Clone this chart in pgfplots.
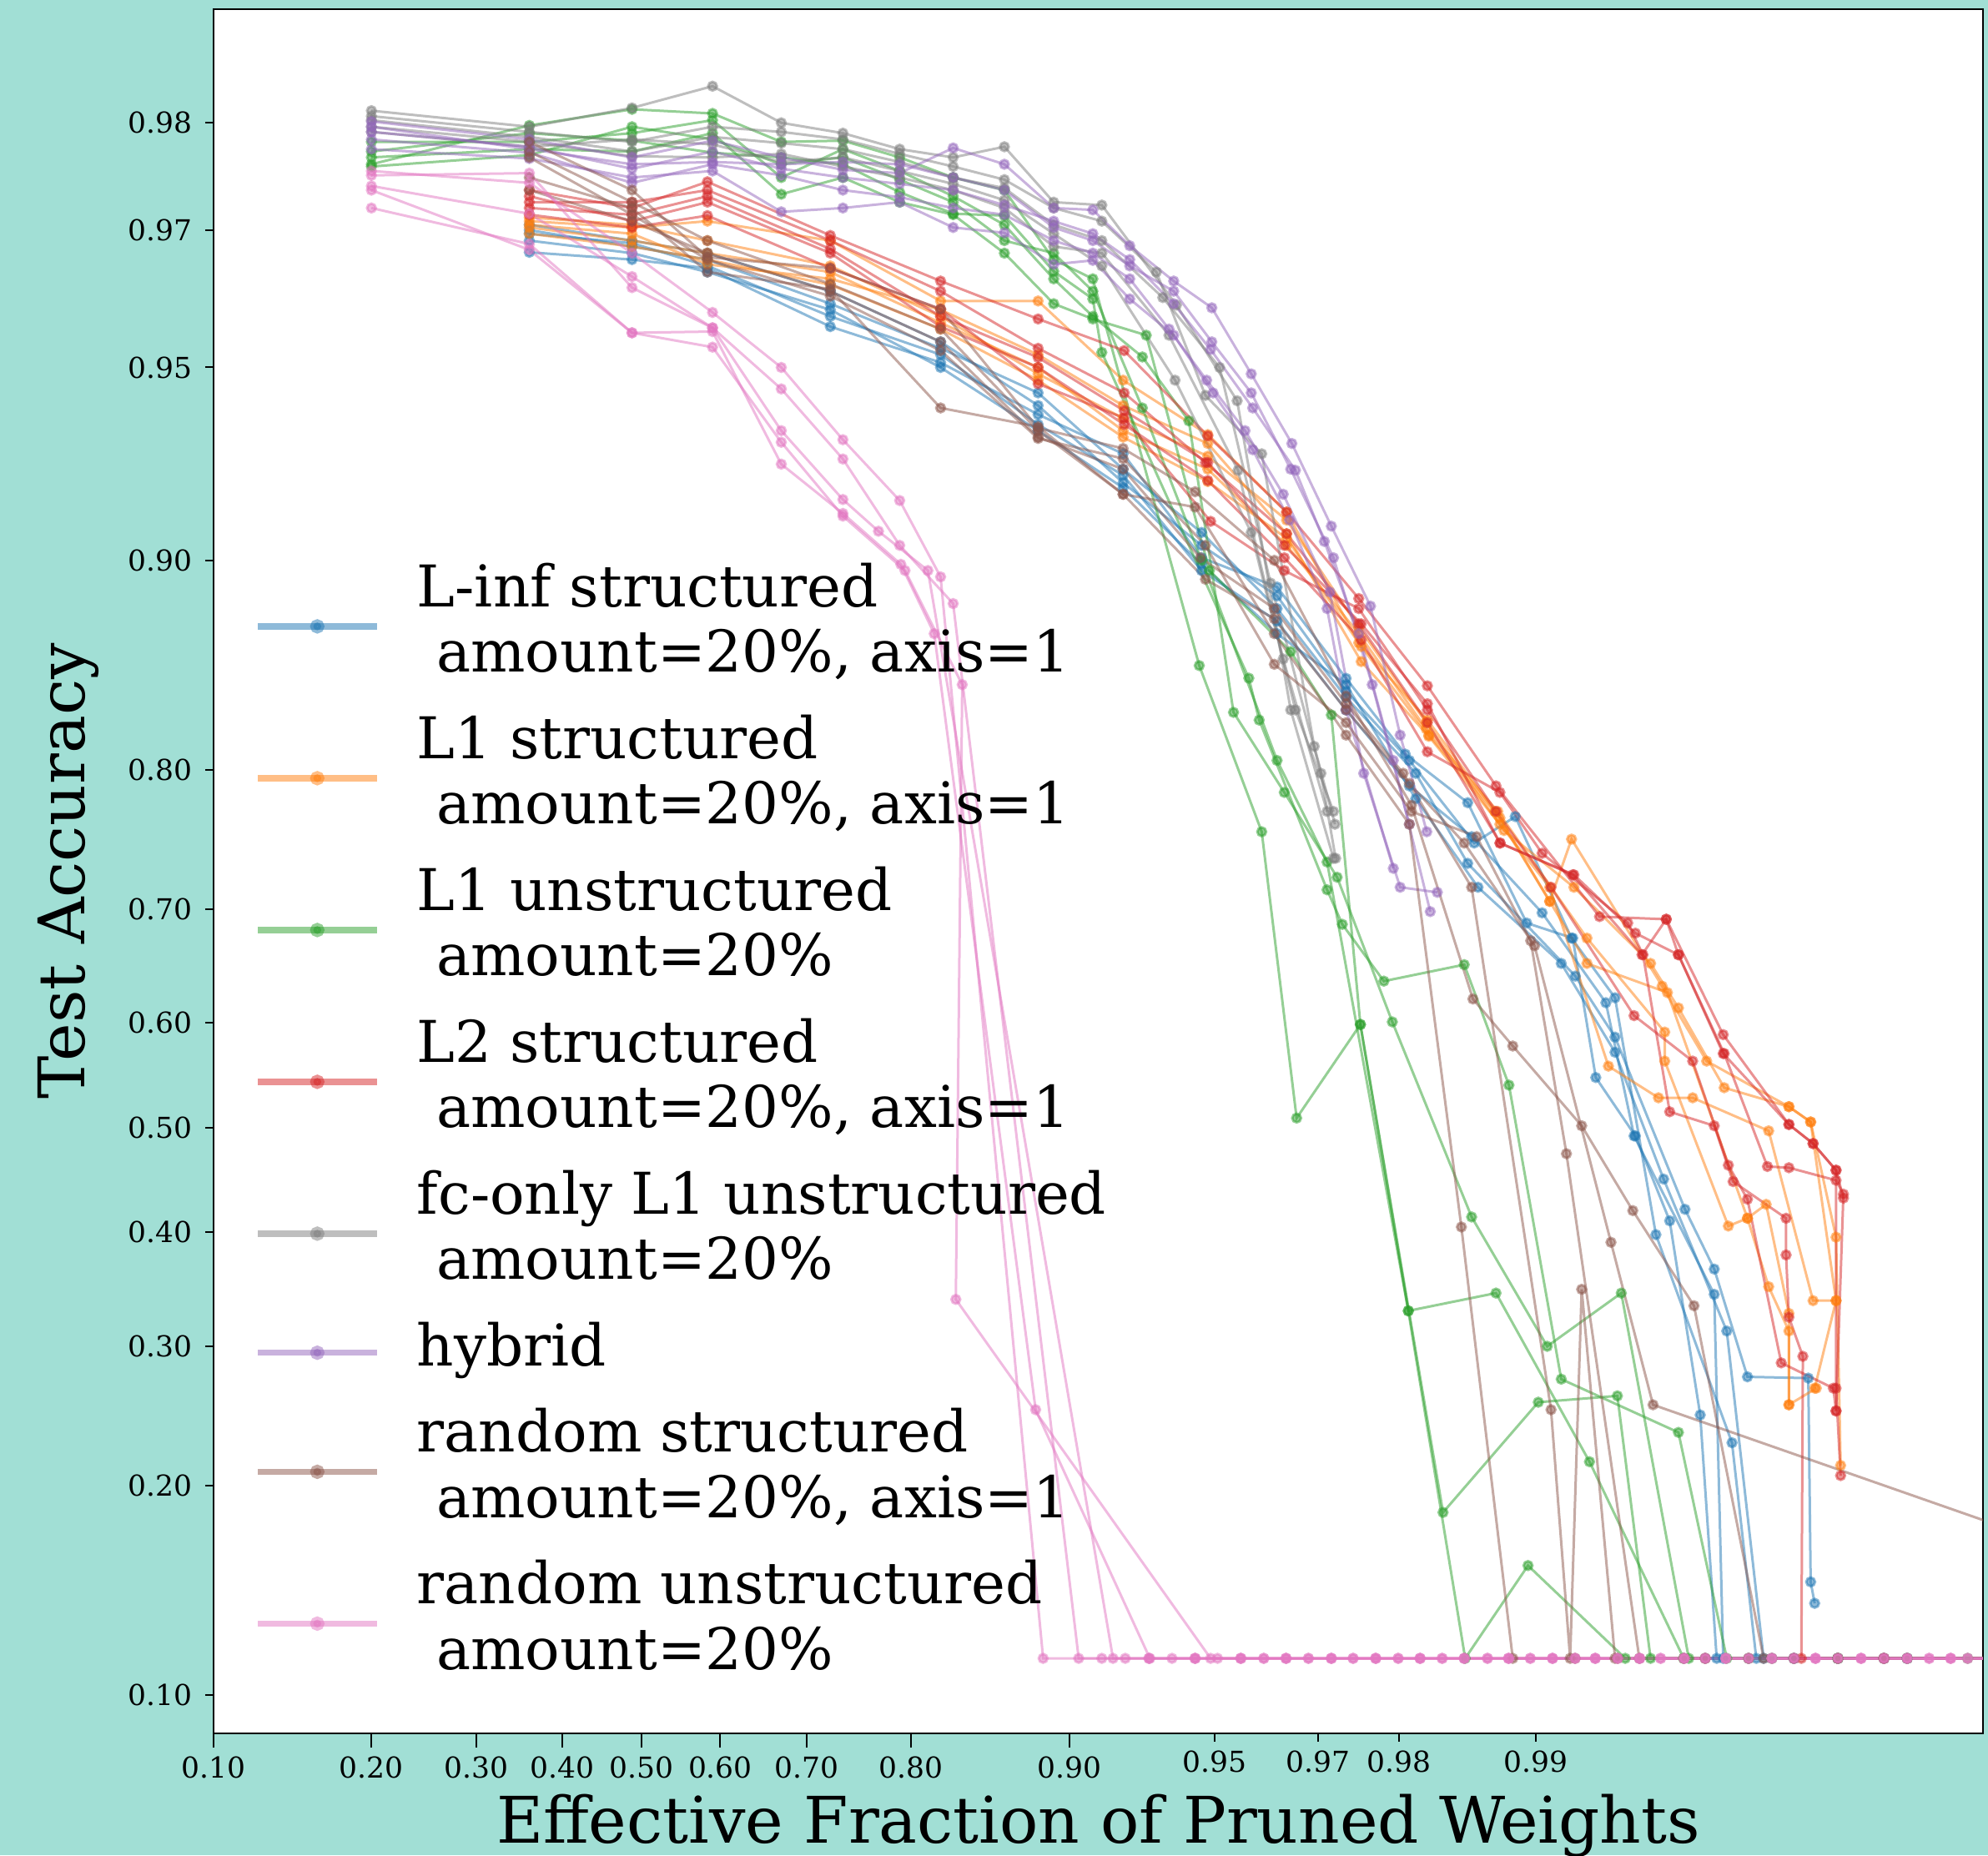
\documentclass[border=0pt]{standalone}
\usepackage{fontspec}
\setmainfont{DejaVu Serif}
\usepackage{pgfplots}
\pgfplotsset{compat=1.18}
\definecolor{bgteal}{RGB}{161,223,213}
\definecolor{tblue}{HTML}{1F77B4}
\definecolor{torange}{HTML}{FF7F0E}
\definecolor{tgreen}{HTML}{2CA02C}
\definecolor{tred}{HTML}{D62728}
\definecolor{tpurple}{HTML}{9467BD}
\definecolor{tbrown}{HTML}{8C564B}
\definecolor{tpink}{HTML}{E377C2}
\definecolor{tgray}{HTML}{7F7F7F}
\newcommand{\LE}[2]{$\vcenter{\fontsize{13.8}{15.7}\selectfont\lineskiplimit=-20pt\hbox{\strut #1}\hbox{\hspace*{4.7pt}\strut #2}}$}
\newcommand{\LS}[1]{$\vcenter{\fontsize{13.8}{15.7}\selectfont\hbox{\strut #1}}$}
\pgfplotsset{run/.style={line width=0.6pt, opacity=0.5, mark=*, mark size=1.05pt, forget plot}}
\begin{document}
\begin{tikzpicture}
\fill[bgteal] (-51.2pt,-29.2pt) rectangle (425.4pt,415.6pt);
\begin{axis}[
  at={(0pt,0pt)}, anchor=south west,
  scale only axis, width=424.2pt, height=413.4pt,
  xmin=-2.197, xmax=6.89, ymin=-2.346, ymax=4.332,
  axis background/.style={fill=white},
  axis line style={line width=0.5pt, black},
  x filter/.expression={ln(x/(1-x))},
  y filter/.expression={ln(y/(1-y))},
  tick align=outside,
  major tick length=3.4pt,
  tick style={black, line width=0.4pt},
  xtick pos=bottom, ytick pos=left,
  xtick={-2.19722,-1.38629,-0.84730,-0.40547,0,0.40547,0.84730,1.38629,2.19722},
  xticklabels={0.10,0.20,0.30,0.40,0.50,0.60,0.70,0.80,0.90},
  extra x ticks={2.94444,3.47610,3.89182,4.59512},
  extra x tick labels={0.95,0.97,0.98,0.99},
  extra x tick style={major tick length=1.9pt},
  ytick=\empty,
  extra y ticks={-2.19722,-1.38629,-0.84730,-0.40547,0,0.40547,0.84730,1.38629,2.19722,2.94444,3.47610,3.89182},
  extra y tick labels={0.10,0.20,0.30,0.40,0.50,0.60,0.70,0.80,0.90,0.95,0.97,0.98},
  extra y tick style={major tick length=2pt},
  tick label style={font=\fontsize{6.9}{8}\selectfont, inner sep=0pt},
  xticklabel style={anchor=north, yshift=-2pt},
  yticklabel style={anchor=east, xshift=-3pt},
  xlabel={Effective Fraction of Pruned Weights},
  ylabel={Test Accuracy},
  every axis x label/.style={at={(axis description cs:0.5,-0.0535)}, anchor=center, font=\fontsize{15.4}{18}\selectfont},
  every axis y label/.style={at={(axis description cs:-0.082,0.5)}, anchor=center, rotate=90, font=\fontsize{15.4}{18}\selectfont},
  legend image code/.code={\draw[mark repeat=2,mark phase=2,#1] plot coordinates {(0pt,0pt) (14.25pt,0pt) (28.5pt,0pt)};},
  legend style={at={(0.0228,0.6805)}, anchor=north west, draw=none, fill=none, inner sep=0pt, row sep=5pt, column sep=8.9pt, nodes={inner sep=0pt, text depth=}, cells={anchor=west}},
]
% ---------------- L-inf structured (blue)
\addplot[run, tblue] coordinates {(0.36,0.9674) (0.488,0.9665) (0.584,0.9654) (0.7252,0.957) (0.823,0.9509) (0.8847,0.9406) (0.9223,0.9315) (0.9467,0.9009) (0.9632,0.8903) (0.9739,0.8507) (0.9806,0.8095) (0.98585,0.7788) (0.98951,0.6884) (0.9917,0.6757) (0.99262,0.5484) (0.99397,0.492) (0.99494,0.4108) (0.99567,0.2474) (0.99602,0.1135) (0.99732,0.1135) (0.99831,0.1135) (0.9993,0.1135)};
\addplot[run, tblue] coordinates {(0.36,0.9706) (0.488,0.9688) (0.584,0.9673) (0.7252,0.9623) (0.823,0.9545) (0.8847,0.9425) (0.9223,0.924) (0.9467,0.9051) (0.9632,0.8869) (0.9739,0.8443) (0.981,0.8057) (0.98631,0.7507) (0.98888,0.7694) (0.99165,0.6757) (0.99331,0.6232) (0.99457,0.3979) (0.99632,0.2279) (0.99675,0.1135) (0.99786,0.1135) (0.9985,0.1135) (0.9993,0.1135)};
\addplot[run, tblue] coordinates {(0.36,0.97) (0.488,0.9681) (0.584,0.9665) (0.7252,0.9605) (0.823,0.9534) (0.8847,0.9451) (0.9223,0.9276) (0.9467,0.9093) (0.9632,0.8819) (0.9739,0.8411) (0.9816,0.7978) (0.98585,0.7357) (0.99181,0.6427) (0.99331,0.5868) (0.99532,0.4216) (0.99597,0.3664) (0.9966,0.2759) (0.99751,0.2749) (0.99754,0.1469) (0.99759,0.1368)};
\addplot[run, tblue] coordinates {(0.36,0.9696) (0.488,0.9685) (0.584,0.9657) (0.7252,0.9586) (0.823,0.9523) (0.8847,0.9384) (0.9223,0.926) (0.9467,0.8964) (0.9632,0.8767) (0.9739,0.8345) (0.981,0.7898) (0.98613,0.7553) (0.9903,0.6968) (0.99299,0.6187) (0.99393,0.492) (0.99597,0.344) (0.99615,0.1135) (0.99732,0.1135) (0.99831,0.1135) (0.9993,0.1135)};
\addplot[run, tblue] coordinates {(0.36,0.9688) (0.488,0.9673) (0.584,0.9649) (0.7252,0.9596) (0.823,0.95) (0.8847,0.937) (0.9223,0.9226) (0.9467,0.8986) (0.9632,0.8714) (0.9739,0.8476) (0.9816,0.7814) (0.98657,0.7173) (0.9912,0.6539) (0.99331,0.5725) (0.99478,0.4504) (0.99622,0.3127) (0.99687,0.1135) (0.99786,0.1135) (0.9985,0.1135) (0.9993,0.1135)};
% ---------------- L1 structured (orange)
\addplot[run, torange] coordinates {(0.36,0.971) (0.488,0.9703) (0.584,0.971) (0.7252,0.9688) (0.823,0.9609) (0.8847,0.9609) (0.9223,0.9476) (0.9483,0.9361) (0.9649,0.9156) (0.9755,0.8674) (0.98266,0.829) (0.98767,0.7729) (0.99067,0.7061) (0.99165,0.7535) (0.99474,0.6337) (0.99581,0.5641) (0.99725,0.5203) (0.99754,0.5055) (0.99784,0.3955) (0.99789,0.2128)};
\addplot[run, torange] coordinates {(0.36,0.9706) (0.488,0.9696) (0.584,0.9659) (0.7252,0.964) (0.823,0.9596) (0.8847,0.9523) (0.9223,0.9425) (0.9483,0.934) (0.9649,0.9089) (0.9758,0.8588) (0.98278,0.8199) (0.98798,0.7641) (0.99067,0.7173) (0.99308,0.5593) (0.99464,0.5289) (0.9955,0.5289) (0.99695,0.4969) (0.99757,0.3385) (0.99784,0.3385) (0.99759,0.2672)};
\addplot[run, torange] coordinates {(0.36,0.9703) (0.488,0.9688) (0.584,0.9673) (0.7252,0.9649) (0.823,0.9576) (0.8847,0.95) (0.9223,0.937) (0.9483,0.9276) (0.9649,0.9051) (0.9755,0.8714) (0.98255,0.8241) (0.98785,0.7729) (0.99228,0.6757) (0.99481,0.5915) (0.99481,0.5641) (0.99625,0.4059) (0.9966,0.4132) (0.99691,0.4263) (0.99725,0.3275) (0.99725,0.2548) (0.99761,0.2672)};
\addplot[run, torange] coordinates {(0.36,0.9714) (0.488,0.9706) (0.584,0.9688) (0.7252,0.9657) (0.823,0.9586) (0.8847,0.9488) (0.9223,0.9398) (0.9483,0.9309) (0.9649,0.9132) (0.9755,0.8741) (0.98255,0.8276) (0.98823,0.7597) (0.99175,0.7173) (0.99442,0.6539) (0.99516,0.6139) (0.99617,0.5386) (0.99725,0.5203) (0.99754,0.5055) (0.99784,0.3385)};
\addplot[run, torange] coordinates {(0.36,0.9696) (0.488,0.9681) (0.584,0.9665) (0.7252,0.9632) (0.823,0.9566) (0.8847,0.9476) (0.9223,0.9355) (0.9483,0.9243) (0.9649,0.9074) (0.9758,0.8657) (0.98278,0.8206) (0.98798,0.7685) (0.99067,0.7061) (0.99228,0.6539) (0.99488,0.6279) (0.9966,0.4132) (0.99695,0.3507) (0.99725,0.3127) (0.99725,0.2548)};
% ---------------- L1 unstructured (green)
\addplot[run, tgreen] coordinates {(0.2,0.9766) (0.36,0.9798) (0.488,0.981) (0.5904,0.9807) (0.6723,0.9785) (0.7379,0.9786) (0.7903,0.9772) (0.8322,0.9754) (0.8658,0.9742) (0.8926,0.9665) (0.9104,0.964) (0.9461,0.8569) (0.9603,0.7588) (0.9666,0.5093) (0.9757,0.5986) (0.9809,0.3297) (0.98774,0.3451) (0.99238,0.2152) (0.99529,0.1135) (0.997,0.1135) (0.99786,0.1135) (0.9985,0.1135) (0.9993,0.1135)};
\addplot[run, tgreen] coordinates {(0.2,0.9777) (0.36,0.9792) (0.488,0.9786) (0.5904,0.9776) (0.6723,0.9772) (0.7379,0.9766) (0.7903,0.974) (0.8322,0.9718) (0.8658,0.9716) (0.8926,0.965) (0.9104,0.9612) (0.9141,0.9527) (0.9577,0.8508) (0.9598,0.829) (0.9713,0.7153) (0.9734,0.6873) (0.9784,0.6382) (0.9856,0.6528) (0.98852,0.5411) (0.9912,0.2741) (0.99516,0.235) (0.99622,0.1135) (0.997,0.1135) (0.99786,0.1135) (0.9985,0.1135) (0.9993,0.1135)};
\addplot[run, tgreen] coordinates {(0.2,0.9785) (0.36,0.9785) (0.488,0.9792) (0.5904,0.9802) (0.6723,0.9754) (0.7379,0.9779) (0.7903,0.976) (0.8322,0.9736) (0.8658,0.9706) (0.8926,0.964) (0.9104,0.9586) (0.9291,0.9519) (0.9433,0.9392) (0.9544,0.8332) (0.9645,0.7856) (0.9727,0.7251) (0.9793,0.601) (0.98613,0.4144) (0.99055,0.3001) (0.99352,0.3451) (0.99541,0.1135) (0.99662,0.1135) (0.99786,0.1135) (0.9985,0.1135) (0.9993,0.1135)};
\addplot[run, tgreen] coordinates {(0.2,0.9772) (0.36,0.9779) (0.488,0.9777) (0.5904,0.9792) (0.6723,0.9738) (0.7379,0.9754) (0.7903,0.973) (0.8322,0.9717) (0.8658,0.9673) (0.8926,0.9605) (0.9104,0.9582) (0.9304,0.9556) (0.9487,0.8964) (0.9656,0.8634) (0.9719,0.8318) (0.9757,0.5986) (0.98397,0.1839) (0.99011,0.2567) (0.99339,0.2614) (0.99442,0.1135) (0.99578,0.1135) (0.99732,0.1135) (0.99831,0.1135) (0.9993,0.1135)};
\addplot[run, tgreen] coordinates {(0.2,0.9764) (0.36,0.9774) (0.488,0.9797) (0.5904,0.9787) (0.6723,0.9766) (0.7379,0.9772) (0.7903,0.9752) (0.8322,0.973) (0.8658,0.9688) (0.8926,0.9673) (0.9104,0.9623) (0.9291,0.942) (0.9467,0.9) (0.9632,0.8057) (0.9713,0.7367) (0.9809,0.3297) (0.98567,0.1135) (0.98958,0.155) (0.99365,0.1135) (0.99529,0.1135) (0.99662,0.1135) (0.99786,0.1135) (0.9989,0.1135) (0.9993,0.1135)};
% ---------------- L2 structured (red)
\addplot[run, tred] coordinates {(0.36,0.9742) (0.488,0.9724) (0.584,0.975) (0.7252,0.9694) (0.823,0.9637) (0.8847,0.9582) (0.9227,0.953) (0.9483,0.9358) (0.9649,0.9156) (0.9755,0.8859) (0.98265,0.847) (0.98774,0.7898) (0.99276,0.6937) (0.99485,0.6915) (0.99615,0.5891) (0.99725,0.5031) (0.99757,0.4846) (0.99784,0.4589) (0.99784,0.2672) (0.99789,0.2063)};
\addplot[run, tred] coordinates {(0.36,0.9724) (0.488,0.9717) (0.584,0.9736) (0.7252,0.9678) (0.823,0.9586) (0.8847,0.9518) (0.9227,0.9414) (0.9483,0.9293) (0.9645,0.9051) (0.9758,0.8756) (0.98265,0.8378) (0.98798,0.7507) (0.99175,0.727) (0.99397,0.6799) (0.99516,0.6615) (0.99617,0.5713) (0.99693,0.4625) (0.99725,0.4613) (0.99784,0.4492) (0.99792,0.436) (0.99784,0.2503)};
\addplot[run, tred] coordinates {(0.36,0.9736) (0.488,0.971) (0.584,0.973) (0.7252,0.9673) (0.823,0.957) (0.8847,0.95) (0.9227,0.9384) (0.9483,0.9246) (0.9645,0.9009) (0.9758,0.8686) (0.98265,0.8109) (0.98798,0.7856) (0.9903,0.7432) (0.99373,0.6884) (0.9942,0.6615) (0.99494,0.5154) (0.99597,0.5018) (0.99634,0.448) (0.99721,0.4132) (0.99721,0.3792) (0.99725,0.3243) (0.99744,0.292) (0.99742,0.1135) (0.99831,0.1135) (0.9993,0.1135)};
\addplot[run, tred] coordinates {(0.36,0.9717) (0.488,0.9703) (0.584,0.9716) (0.7252,0.9654) (0.823,0.9597) (0.8847,0.9469) (0.9227,0.9398) (0.949,0.9128) (0.9645,0.8964) (0.9755,0.8819) (0.98265,0.8345) (0.98774,0.7729) (0.99073,0.7173) (0.99393,0.6068) (0.9955,0.5641) (0.99625,0.4637) (0.9966,0.4312) (0.99714,0.2868) (0.99781,0.2672) (0.99784,0.2503)};
\addplot[run, tred] coordinates {(0.36,0.973) (0.488,0.973) (0.584,0.9742) (0.7252,0.9688) (0.823,0.9623) (0.8847,0.9534) (0.9227,0.9451) (0.9477,0.9293) (0.9649,0.9089) (0.9755,0.8756) (0.98265,0.8276) (0.988,0.7507) (0.9917,0.727) (0.99417,0.6615) (0.99485,0.6915) (0.99516,0.6615) (0.99615,0.5713) (0.99725,0.5031) (0.99757,0.4846) (0.99784,0.4589) (0.99792,0.4323)};
% ---------------- fc-only L1 unstructured (gray)
\addplot[run, tgray] coordinates {(0.2,0.9809) (0.36,0.9797) (0.488,0.9811) (0.5904,0.9826) (0.6723,0.98) (0.7379,0.9792) (0.7903,0.9779) (0.8322,0.9772) (0.8658,0.9781) (0.8926,0.973) (0.9141,0.9727) (0.9398,0.9603) (0.9552,0.9435) (0.9656,0.8345) (0.9722,0.7395)};
\addplot[run, tgray] coordinates {(0.2,0.9805) (0.36,0.9793) (0.488,0.9785) (0.5904,0.9797) (0.6723,0.9793) (0.7379,0.9787) (0.7903,0.9775) (0.8322,0.9764) (0.8658,0.9752) (0.8926,0.9724) (0.9141,0.971) (0.9337,0.9649) (0.9477,0.9446) (0.9603,0.9315) (0.9694,0.8141) (0.9724,0.7641)};
\addplot[run, tgray] coordinates {(0.2,0.9802) (0.36,0.9789) (0.488,0.9777) (0.5904,0.9789) (0.6723,0.9784) (0.7379,0.9779) (0.7903,0.9768) (0.8322,0.9754) (0.8658,0.9744) (0.8926,0.9706) (0.9141,0.9688) (0.9357,0.9614) (0.9512,0.95) (0.962,0.8918) (0.9704,0.7978) (0.9725,0.7395)};
\addplot[run, tgray] coordinates {(0.2,0.9797) (0.36,0.9785) (0.488,0.9773) (0.5904,0.9772) (0.6723,0.9775) (0.7379,0.9764) (0.7903,0.9754) (0.8322,0.9742) (0.8658,0.9724) (0.8926,0.9681) (0.9141,0.9673) (0.9376,0.9556) (0.9554,0.9273) (0.9643,0.86) (0.9713,0.7729)};
\addplot[run, tgray] coordinates {(0.2,0.9793) (0.36,0.9781) (0.488,0.9787) (0.5904,0.9783) (0.6723,0.9768) (0.7379,0.9772) (0.7903,0.976) (0.8322,0.9748) (0.8658,0.9732) (0.8926,0.9696) (0.9141,0.9657) (0.9394,0.9476) (0.9582,0.9093) (0.9664,0.8345) (0.9722,0.7729)};
% ---------------- hybrid (purple)
\addplot[run, tpurple] coordinates {(0.2,0.9801) (0.36,0.9787) (0.488,0.9772) (0.5904,0.9786) (0.6723,0.9772) (0.7379,0.9761) (0.7903,0.9758) (0.8322,0.978) (0.8658,0.9766) (0.8926,0.9724) (0.9104,0.9722) (0.9247,0.9682) (0.939,0.9637) (0.9493,0.9599) (0.9582,0.9488) (0.9658,0.934) (0.9719,0.9113) (0.9769,0.8829) (0.9801,0.8206) (0.9826,0.7588)};
\addplot[run, tpurple] coordinates {(0.2,0.9793) (0.36,0.9781) (0.488,0.9762) (0.5904,0.9777) (0.6723,0.9762) (0.7379,0.9754) (0.7903,0.9748) (0.8322,0.9742) (0.8658,0.9727) (0.8926,0.971) (0.9104,0.9696) (0.9247,0.9665) (0.939,0.9605) (0.949,0.9532) (0.9585,0.942) (0.9664,0.9273) (0.9709,0.9064) (0.9755,0.8714) (0.9794,0.8057) (0.9829,0.6978)};
\addplot[run, tpurple] coordinates {(0.2,0.9787) (0.36,0.9776) (0.488,0.9749) (0.5904,0.9766) (0.6723,0.9756) (0.7379,0.9742) (0.7903,0.9735) (0.8322,0.9724) (0.8658,0.9717) (0.8926,0.9688) (0.9104,0.9673) (0.9247,0.964) (0.9376,0.9566) (0.948,0.9476) (0.9569,0.937) (0.9643,0.9208) (0.9717,0.8884) (0.9761,0.7978) (0.9801,0.7173) (0.9835,0.7133)};
\addplot[run, tpurple] coordinates {(0.2,0.9779) (0.36,0.9771) (0.488,0.9754) (0.5904,0.976) (0.6723,0.972) (0.7379,0.9724) (0.7903,0.973) (0.8322,0.9703) (0.8658,0.9697) (0.8926,0.9659) (0.9104,0.9664) (0.9247,0.9612) (0.939,0.9556) (0.9496,0.9451) (0.9585,0.9325) (0.9654,0.9132) (0.9713,0.8819) (0.9739,0.8345) (0.9794,0.7319)};
\addplot[run, tpurple] coordinates {(0.2,0.9797) (0.36,0.9779) (0.488,0.9766) (0.5904,0.9768) (0.6723,0.9766) (0.7379,0.9768) (0.7903,0.9766) (0.8322,0.9754) (0.8658,0.9742) (0.8926,0.9703) (0.9104,0.9688) (0.9247,0.9657) (0.939,0.9623) (0.9493,0.9545) (0.9582,0.9451) (0.9656,0.9276) (0.9722,0.9009) (0.9771,0.8476) (0.981,0.7641)};
% ---------------- random structured (brown)
\addplot[run, tbrown] coordinates {(0.36,0.9785) (0.488,0.9742) (0.584,0.9668) (0.7252,0.9654) (0.823,0.9597) (0.8847,0.9376) (0.9223,0.9328) (0.945,0.9215) (0.9627,0.9) (0.9739,0.8418) (0.9812,0.7771) (0.98622,0.6221) (0.98874,0.5784) (0.99207,0.5018) (0.99389,0.4204) (0.99553,0.3341) (0.99687,0.1135) (0.99786,0.1135) (0.9985,0.1135) (0.9993,0.1135)};
\addplot[run, tbrown] coordinates {(0.36,0.9777) (0.488,0.973) (0.584,0.9688) (0.7252,0.9633) (0.823,0.9566) (0.8847,0.937) (0.9223,0.9208) (0.9477,0.8932) (0.9627,0.8777) (0.9739,0.8345) (0.981,0.7914) (0.9856,0.7507) (0.98992,0.6692) (0.99317,0.3908) (0.99449,0.2548) (0.99959,0.1469)};
\addplot[run, tbrown] coordinates {(0.36,0.9772) (0.488,0.9717) (0.584,0.9665) (0.7252,0.9616) (0.823,0.953) (0.8847,0.9352) (0.9223,0.9303) (0.9477,0.9051) (0.9627,0.8575) (0.9739,0.8276) (0.9812,0.7729) (0.98648,0.7553) (0.98972,0.6735) (0.99143,0.4748) (0.99409,0.1135) (0.99578,0.1135) (0.99732,0.1135) (0.99831,0.1135) (0.9993,0.1135)};
\addplot[run, tbrown] coordinates {(0.36,0.9754) (0.488,0.9724) (0.584,0.9649) (0.7252,0.9626) (0.823,0.942) (0.8847,0.9379) (0.9223,0.9208) (0.945,0.9171) (0.9627,0.8714) (0.9739,0.8206) (0.981,0.7641) (0.98539,0.405) (0.98874,0.1135) (0.9918,0.1135) (0.9934,0.1135) (0.99578,0.1135) (0.99732,0.1135) (0.99831,0.1135) (0.9993,0.1135)};
\addplot[run, tbrown] coordinates {(0.36,0.9742) (0.488,0.971) (0.584,0.9673) (0.7252,0.9623) (0.823,0.9545) (0.8847,0.9355) (0.9223,0.9276) (0.9464,0.9009) (0.9627,0.8819) (0.9739,0.8378) (0.9804,0.7978) (0.98613,0.7173) (0.99073,0.2512) (0.99159,0.1135) (0.99207,0.3484) (0.99331,0.1135) (0.99529,0.1135) (0.99662,0.1135) (0.99786,0.1135) (0.9993,0.1135)};
% ---------------- random unstructured (pink)
\addplot[run, tpink] coordinates {(0.2,0.976) (0.36,0.9749) (0.488,0.9673) (0.5904,0.9592) (0.6723,0.95) (0.7379,0.9349) (0.7903,0.919) (0.823,0.8941) (0.8873,0.1135) (0.9141,0.1135) (0.9313,0.1135) (0.945,0.1135) (0.956,0.1135) (0.9648,0.1135) (0.9719,0.1135) (0.9775,0.1135) (0.982,0.1135) (0.9856,0.1135) (0.9885,0.1135) (0.9908,0.1135) (0.9926,0.1135) (0.9941,0.1135) (0.9953,0.1135) (0.9962,0.1135) (0.997,0.1135) (0.9976,0.1135) (0.9981,0.1135) (0.9985,0.1135) (0.9988,0.1135) (0.999,0.1135) (0.9993,0.1135)};
\addplot[run, tpink] coordinates {(0.2,0.9746) (0.36,0.9718) (0.488,0.9643) (0.5904,0.9568) (0.6723,0.9459) (0.7379,0.9302) (0.7903,0.9051) (0.8322,0.8839) (0.9043,0.1135) (0.9231,0.1135) (0.9385,0.1135) (0.9507,0.1135) (0.9607,0.1135) (0.9685,0.1135) (0.9748,0.1135) (0.9799,0.1135) (0.9839,0.1135) (0.9872,0.1135) (0.9897,0.1135) (0.9918,0.1135) (0.9934,0.1135) (0.9947,0.1135) (0.99578,0.1135) (0.99662,0.1135) (0.99732,0.1135) (0.99786,0.1135) (0.99831,0.1135) (0.99866,0.1135) (0.9989,0.1135) (0.99915,0.1135) (0.9994,0.1135)};
\addplot[run, tpink] coordinates {(0.2,0.9756) (0.36,0.9758) (0.488,0.9628) (0.5904,0.9568) (0.6723,0.937) (0.7379,0.9193) (0.7717,0.9097) (0.8133,0.8964) (0.9185,0.1135) (0.9313,0.1135) (0.945,0.1135) (0.956,0.1135) (0.9648,0.1135) (0.9719,0.1135) (0.9775,0.1135) (0.982,0.1135) (0.9856,0.1135) (0.9885,0.1135) (0.9908,0.1135) (0.9926,0.1135) (0.9941,0.1135) (0.9953,0.1135) (0.9962,0.1135) (0.997,0.1135) (0.9976,0.1135) (0.9981,0.1135) (0.9985,0.1135) (0.9988,0.1135) (0.999,0.1135) (0.9993,0.1135)};
\addplot[run, tpink] coordinates {(0.2,0.9724) (0.36,0.9684) (0.488,0.956) (0.5904,0.9536) (0.6723,0.9343) (0.7379,0.9144) (0.7948,0.8964) (0.8386,0.8476) (0.8341,0.3396) (0.949,0.1135) (0.9607,0.1135) (0.9685,0.1135) (0.9748,0.1135) (0.9799,0.1135) (0.9839,0.1135) (0.9872,0.1135) (0.9897,0.1135) (0.9918,0.1135) (0.9934,0.1135) (0.9947,0.1135) (0.99578,0.1135) (0.99662,0.1135) (0.99732,0.1135) (0.99786,0.1135) (0.99831,0.1135) (0.99866,0.1135) (0.9989,0.1135) (0.99915,0.1135) (0.9994,0.1135)};
\addplot[run, tpink] coordinates {(0.2,0.9742) (0.36,0.9677) (0.488,0.956) (0.5904,0.9562) (0.6723,0.9289) (0.7379,0.9152) (0.7913,0.8986) (0.8182,0.8714) (0.8834,0.2512) (0.9316,0.1135) (0.945,0.1135) (0.956,0.1135) (0.9648,0.1135) (0.9719,0.1135) (0.9775,0.1135) (0.982,0.1135) (0.9856,0.1135) (0.9885,0.1135) (0.9908,0.1135) (0.9926,0.1135) (0.9941,0.1135) (0.9953,0.1135) (0.9962,0.1135) (0.997,0.1135) (0.9976,0.1135) (0.9981,0.1135) (0.9985,0.1135) (0.9988,0.1135) (0.999,0.1135) (0.9993,0.1135)};
% ---------------- legend
\addlegendimage{tblue, line width=1.5pt, opacity=0.5, mark=*, mark size=0.95pt}
\addlegendentry{\LE{L-inf structured}{amount=20\%, axis=1}}
\addlegendimage{torange, line width=1.5pt, opacity=0.5, mark=*, mark size=0.95pt}
\addlegendentry{\LE{L1 structured}{amount=20\%, axis=1}}
\addlegendimage{tgreen, line width=1.5pt, opacity=0.5, mark=*, mark size=0.95pt}
\addlegendentry{\LE{L1 unstructured}{amount=20\%}}
\addlegendimage{tred, line width=1.5pt, opacity=0.5, mark=*, mark size=0.95pt}
\addlegendentry{\LE{L2 structured}{amount=20\%, axis=1}}
\addlegendimage{tgray, line width=1.5pt, opacity=0.5, mark=*, mark size=0.95pt}
\addlegendentry{\LE{fc-only L1 unstructured}{amount=20\%}}
\addlegendimage{tpurple, line width=1.5pt, opacity=0.5, mark=*, mark size=0.95pt}
\addlegendentry{\LS{hybrid}}
\addlegendimage{tbrown, line width=1.5pt, opacity=0.5, mark=*, mark size=0.95pt}
\addlegendentry{\LE{random structured}{amount=20\%, axis=1}}
\addlegendimage{tpink, line width=1.5pt, opacity=0.5, mark=*, mark size=0.95pt}
\addlegendentry{\LE{random unstructured}{amount=20\%}}
\end{axis}
\pgfresetboundingbox
\path[use as bounding box] (-51.2pt,-29.2pt) rectangle (425.4pt,415.6pt);
\end{tikzpicture}
\end{document}
